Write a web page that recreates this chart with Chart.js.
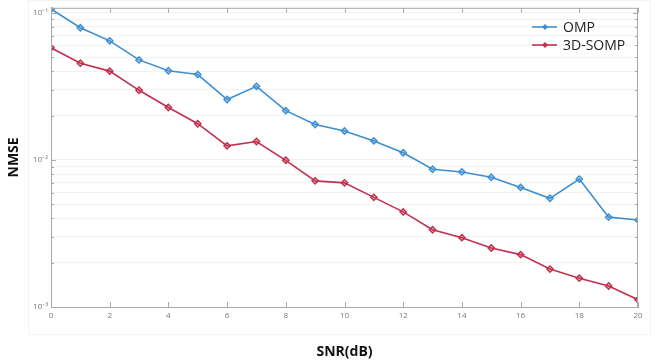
<!DOCTYPE html>
<html>
<head>
<meta charset="utf-8">
<script src="https://cdn.jsdelivr.net/npm/chart.js@4.4.1/dist/chart.umd.min.js"></script>
<style>
    html, body { margin: 0; padding: 0; background: #fff; }
    #box { width: 655px; height: 364px; }
</style>
</head>
<body>
<div id="box"><canvas id="nmse-chart"></canvas></div>
<script>
// SNR (dB) values on the x axis
const snr = [0, 1, 2, 3, 4, 5, 6, 7, 8, 9, 10, 11, 12, 13, 14, 15, 16, 17, 18, 19, 20];

// NMSE
const ompValues = [0.106, 0.079, 0.0644, 0.0478, 0.0403, 0.0380, 0.0257, 0.0316, 0.0216, 0.0174,
    0.0157, 0.01345, 0.01117, 0.00863, 0.00828, 0.00762, 0.0065, 0.00548, 0.0074, 0.00408, 0.0039];
const somp3dValues = [0.0578, 0.0454, 0.0401, 0.0297, 0.0227, 0.0176, 0.01245, 0.01333, 0.00993, 0.0072,
    0.00698, 0.00556, 0.00443, 0.00335, 0.00296, 0.00252, 0.00227, 0.00181, 0.00157, 0.00139, 0.00112];

const seriesNames = ['OMP', '3D-SOMP'];
const seriesColors = ['#3d8fd3', '#c2304f'];

const xTicks = [0, 2, 4, 6, 8, 10, 12, 14, 16, 18, 20];
const decadeLabels = { '0.001': '10\u207B\u00B3', '0.01': '10\u207B\u00B2', '0.1': '10\u207B\u00B9' };

function toPoints(values) {
    return snr.map((x, i) => ({ x: x, y: values[i] }));
}

function makeDataset(label, values, color) {
    return {
        label: label,
        data: toPoints(values),
        borderColor: color,
        backgroundColor: color + '55',
        borderWidth: 1.6,
        pointStyle: 'rectRot',
        pointRadius: 3.2,
        pointBorderWidth: 1.4,
        pointBorderColor: color,
        pointBackgroundColor: color + '55',
        tension: 0
    };
}

// frame, inner ticks and legend, drawn like the matlab figure
const figurePlugin = {
    id: 'figurePlugin',
    beforeDraw(chart) {
        const ctx = chart.ctx;
        ctx.save();
        ctx.strokeStyle = '#f3f3f3';
        ctx.lineWidth = 1;
        ctx.strokeRect(28.5, 0.5, 622, 334);
        ctx.restore();
    },
    afterDatasetsDraw(chart) {
        const ctx = chart.ctx;
        const area = chart.chartArea;
        const xScale = chart.scales.x;
        const yScale = chart.scales.y;
        ctx.save();
        ctx.strokeStyle = '#a8a8a8';
        ctx.lineWidth = 1;
        ctx.strokeRect(area.left + 0.5, area.top + 0.5, area.right - area.left - 1, area.bottom - area.top);

        // x tick marks at bottom and top
        ctx.beginPath();
        xTicks.forEach(v => {
            const px = Math.round(xScale.getPixelForValue(v)) + 0.5;
            ctx.moveTo(px, area.bottom);
            ctx.lineTo(px, area.bottom - 5);
            ctx.moveTo(px, area.top);
            ctx.lineTo(px, area.top + 5);
        });
        // y tick marks on both sides
        yScale.ticks.forEach(t => {
            const py = Math.round(yScale.getPixelForValue(t.value)) + 0.5;
            const len = decadeLabels[String(t.value)] ? 5 : 3;
            ctx.moveTo(area.left, py);
            ctx.lineTo(area.left + len, py);
            ctx.moveTo(area.right, py);
            ctx.lineTo(area.right - len, py);
        });
        ctx.stroke();

        // legend in the upper right
        const lx = 532;
        const rows = [27, 45];
        chart.data.datasets.forEach((ds, i) => {
            const y = rows[i];
            ctx.strokeStyle = ds.borderColor;
            ctx.lineWidth = 1.6;
            ctx.beginPath();
            ctx.moveTo(lx, y);
            ctx.lineTo(lx + 25, y);
            ctx.stroke();
            ctx.fillStyle = ds.borderColor;
            ctx.beginPath();
            ctx.moveTo(lx + 13, y - 3);
            ctx.lineTo(lx + 16, y);
            ctx.lineTo(lx + 13, y + 3);
            ctx.lineTo(lx + 10, y);
            ctx.closePath();
            ctx.fill();
            ctx.fillStyle = '#222';
            ctx.font = '14px "Open Sans", sans-serif';
            ctx.textBaseline = 'middle';
            ctx.fillText(ds.label, lx + 31, y + 1);
        });
        ctx.restore();
    }
};

const ctx = document.getElementById('nmse-chart').getContext('2d');
new Chart(ctx, {
    type: 'line',
    data: {
        datasets: [
            makeDataset(seriesNames[0], ompValues, seriesColors[0]),
            makeDataset(seriesNames[1], somp3dValues, seriesColors[1])
        ]
    },
    options: {
        responsive: true,
        maintainAspectRatio: false,
        animation: false,
        layout: { padding: { top: 6, right: 17, left: 0, bottom: 0 } },
        plugins: {
            legend: { display: false },
            tooltip: { enabled: false }
        },
        scales: {
            x: {
                type: 'linear',
                min: 0,
                max: 20,
                afterFit(scale) { scale.height = 57; },
                afterBuildTicks(scale) { scale.ticks = xTicks.map(v => ({ value: v })); },
                grid: { display: false, drawTicks: false },
                border: { color: '#a8a8a8' },
                ticks: {
                    color: '#777',
                    padding: 4,
                    font: { size: 8, family: '"Open Sans", sans-serif' }
                },
                title: {
                    display: true,
                    text: 'SNR(dB)',
                    color: '#111',
                    padding: { top: 17 },
                    font: { size: 14, weight: 'bold', family: '"Open Sans", sans-serif' }
                }
            },
            y: {
                type: 'logarithmic',
                min: 0.001,
                max: 0.108,
                afterFit(scale) { scale.width = 51; },
                afterBuildTicks(scale) {
                    const ticks = [];
                    [0.001, 0.01].forEach(base => {
                        for (let k = 1; k <= 9; k++) {
                            ticks.push({ value: parseFloat((base * k).toPrecision(3)) });
                        }
                    });
                    ticks.push({ value: 0.1 });
                    scale.ticks = ticks;
                },
                grid: { color: '#f2f2f2', drawTicks: false },
                border: { color: '#a8a8a8' },
                ticks: {
                    autoSkip: false,
                    color: '#777',
                    padding: 3,
                    font: { size: 8, family: '"Open Sans", sans-serif' },
                    callback(value) {
                        return decadeLabels[String(value)] || '';
                    }
                },
                title: {
                    display: true,
                    text: 'NMSE',
                    color: '#111',
                    padding: { top: 6, bottom: 0 },
                    font: { size: 14, weight: 'bold', family: '"Open Sans", sans-serif' }
                }
            }
        }
    },
    plugins: [figurePlugin]
});
</script>
</body>
</html>
